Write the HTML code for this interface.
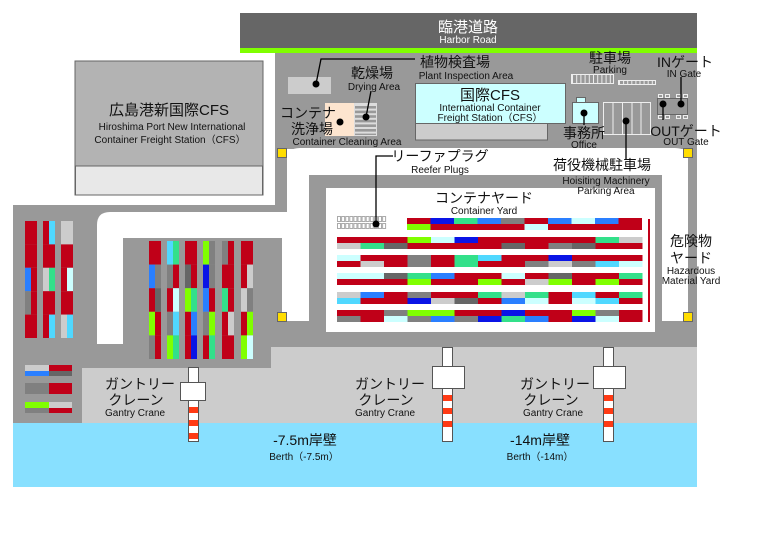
<!DOCTYPE html>
<html><head><meta charset="utf-8"><style>
html,body{margin:0;padding:0;background:#fff;}
svg{display:block;font-family:"Liberation Sans","Noto Sans CJK JP",sans-serif;}
</style></head><body>
<svg id="s" width="758" height="536" viewBox="0 0 758 536" xmlns="http://www.w3.org/2000/svg">
<rect x="240" y="13" width="457" height="36" fill="#666"/>
<rect x="240" y="48" width="457" height="5" fill="#80ff00"/>
<rect x="275" y="53" width="422" height="96" fill="#999"/>
<rect x="275" y="148" width="12" height="64" fill="#999"/>
<rect x="688" y="148" width="9" height="200" fill="#999"/>
<rect x="13" y="205" width="274" height="220" fill="#999"/>
<rect x="13" y="320" width="684" height="105" fill="#999"/>
<path d="M97 344 L97 225 Q97 212 110 212 L282 212 L282 238 L123 238 L123 344 Z" fill="#fff"/>
<rect x="123" y="238" width="159" height="110" fill="#999"/>
<rect x="282" y="212" width="27" height="109" fill="#fff"/>
<path d="M287 212 L287 160 Q287 148 300 148 L675 148 Q688 148 688 160 L688 321 L662 321 L662 175 L309 175 L309 212 Z" fill="#fff"/>
<rect x="309" y="175" width="353" height="170" fill="#999"/>
<rect x="326" y="188" width="329" height="144" fill="#fff"/>
<path d="M82 368 L271 368 L271 347 L697 347 L697 425 L82 425 Z" fill="#ccc"/>
<rect x="13" y="423" width="684" height="64" fill="#88e0ff"/>
<rect x="75" y="61" width="188" height="134" fill="#b3b3b3" stroke="#666" stroke-width="1"/>
<rect x="75.5" y="166" width="187" height="29" fill="#e8e8e8" stroke="#666" stroke-width="1"/>
<rect x="288" y="77" width="43" height="17" fill="#ccc"/>
<rect x="325" y="103" width="29" height="33" fill="#fde5cf"/>
<g id="dry"></g>
<rect x="354.5" y="103.5" width="22" height="32" fill="none" stroke="#ddd"/>
<rect x="415.5" y="122" width="132" height="18" fill="#ccc" stroke="#666"/>
<rect x="415.5" y="83.5" width="150" height="40" fill="#ccffff" stroke="#666"/>
<rect x="571.5" y="74.5" width="42" height="9" fill="none" stroke="#eee"/>
<g id="park"></g>
<rect x="618.5" y="80.5" width="37" height="4" fill="none" stroke="#eee"/>
<rect x="576.5" y="97.5" width="9" height="5" fill="#ccffff" stroke="#666"/>
<rect x="572.5" y="102.5" width="26" height="21" fill="#ccffff" stroke="#666"/>
<g stroke="#eee" fill="none"><rect x="603.5" y="102.5" width="47" height="32"/>
<line x1="613" y1="103" x2="613" y2="135"/><line x1="622.5" y1="103" x2="622.5" y2="135"/><line x1="632" y1="103" x2="632" y2="135"/><line x1="641" y1="103" x2="641" y2="135"/></g>
<rect x="657.5" y="98.5" width="30" height="16" fill="#999" stroke="#666"/>
<g fill="none" stroke="#eee"><rect x="658.5" y="94.5" width="4" height="3"/><rect x="665.5" y="94.5" width="4" height="3"/><rect x="676.5" y="94.5" width="4" height="3"/><rect x="683.5" y="94.5" width="4" height="3"/>
<rect x="658.5" y="115.5" width="4" height="3"/><rect x="665.5" y="115.5" width="4" height="3"/><rect x="676.5" y="115.5" width="4" height="3"/><rect x="683.5" y="115.5" width="4" height="3"/></g>
<g fill="#ffdd00" stroke="#666"><rect x="277.5" y="148.5" width="9" height="9"/><rect x="277.5" y="312.5" width="9" height="9"/><rect x="683.5" y="148.5" width="9" height="9"/><rect x="683.5" y="312.5" width="9" height="9"/></g>
<g id="cont"></g>
<rect x="648" y="219" width="2" height="103" fill="#c00018"/>
<g id="reef"></g>
<g stroke="#000" stroke-width="1.3" fill="none">
<polyline points="316,84 321,59 415,59"/>
<line x1="366" y1="117" x2="371" y2="91"/>
<polyline points="376,224 376,156 393,156"/>
<line x1="626" y1="121" x2="626" y2="160"/>
<line x1="681" y1="104" x2="681" y2="77"/>
<line x1="663" y1="104" x2="663" y2="120"/>
<line x1="584" y1="113" x2="584" y2="125"/>
</g>
<g fill="#000"><circle cx="316" cy="84" r="3.5"/><circle cx="366" cy="117" r="3.5"/><circle cx="340" cy="122" r="3.5"/><circle cx="376" cy="224" r="3.5"/><circle cx="626" cy="121" r="3.5"/><circle cx="663" cy="104" r="3.5"/><circle cx="681" cy="104" r="3.5"/><circle cx="584" cy="113" r="3.5"/></g>
<g id="cranes"></g>
<g text-anchor="middle" fill="#111">
<text x="468" y="32" font-size="15" fill="#fff">臨港道路</text>
<text x="468" y="43" font-size="10" fill="#fff">Harbor Road</text>
<text x="169" y="115" font-size="15">広島港新国際CFS</text>
<text x="172" y="130" font-size="10">Hiroshima Port New International</text>
<text x="170" y="143" font-size="10">Container Freight Station（CFS）</text>
<text x="455" y="67" font-size="14">植物検査場</text>
<text x="466" y="79" font-size="10">Plant Inspection Area</text>
<text x="372" y="78" font-size="14">乾燥場</text>
<text x="374" y="90" font-size="10">Drying Area</text>
<text x="308" y="118" font-size="14">コンテナ</text>
<text x="312" y="134" font-size="14">洗浄場</text>
<text x="347" y="145" font-size="10">Container Cleaning Area</text>
<text x="490" y="100" font-size="15">国際CFS</text>
<text x="490" y="111" font-size="10">International Container</text>
<text x="490" y="121" font-size="10">Freight Station（CFS）</text>
<text x="610" y="63" font-size="14">駐車場</text>
<text x="610" y="73" font-size="10">Parking</text>
<text x="685" y="67" font-size="14">INゲート</text>
<text x="684" y="77" font-size="10">IN Gate</text>
<text x="584" y="138" font-size="14">事務所</text>
<text x="584" y="148" font-size="10">Office</text>
<text x="686" y="136" font-size="14">OUTゲート</text>
<text x="686" y="145" font-size="10">OUT Gate</text>
<text x="440" y="161" font-size="14">リーファプラグ</text>
<text x="440" y="173" font-size="10">Reefer Plugs</text>
<text x="602" y="170" font-size="14">荷役機械駐車場</text>
<text x="606" y="184" font-size="10">Hoisiting Machinery</text>
<text x="606" y="194" font-size="10">Parking Area</text>
<text x="484" y="203" font-size="14">コンテナヤード</text>
<text x="484" y="214" font-size="10">Container Yard</text>
<text x="691" y="246" font-size="14">危険物</text>
<text x="691" y="263" font-size="14">ヤード</text>
<text x="691" y="274" font-size="10">Hazardous</text>
<text x="691" y="284" font-size="10">Material Yard</text>
<text x="140" y="389" font-size="14">ガントリー</text>
<text x="136" y="405" font-size="14">クレーン</text>
<text x="135" y="416" font-size="10">Gantry Crane</text>
<text x="390" y="389" font-size="14">ガントリー</text>
<text x="386" y="405" font-size="14">クレーン</text>
<text x="385" y="416" font-size="10">Gantry Crane</text>
<text x="555" y="389" font-size="14">ガントリー</text>
<text x="551" y="405" font-size="14">クレーン</text>
<text x="553" y="416" font-size="10">Gantry Crane</text>
<text x="305" y="445" font-size="14">-7.5m岸壁</text>
<text x="304" y="460" font-size="10">Berth（-7.5m）</text>
<text x="540" y="445" font-size="14">-14m岸壁</text>
<text x="540" y="460" font-size="10">Berth（-14m）</text>
</g>
</svg>
<script>
(function(){
var NS="http://www.w3.org/2000/svg";
function R(g,x,y,w,h,f,st){var r=document.createElementNS(NS,"rect");r.setAttribute("x",x);r.setAttribute("y",y);r.setAttribute("width",w);r.setAttribute("height",h);r.setAttribute("fill",f);if(st){r.setAttribute("stroke",st);}g.appendChild(r);}
var seed=11;function rnd(){seed=(seed*16807)%2147483647;return seed/2147483647;}
var pal=["#c00018","#c00018","#c00018","#c00018","#c00018","#c00018","#c00018","#c00018","#c00018","#c00018","#808080","#cccccc","#666","#0a14e6","#50d8ff","#ccffff","#33e08a","#2a7fff","#808080","#80ff00"];
function pc(){return pal[Math.floor(rnd()*pal.length)];}
var c=document.getElementById("cont");
[25,43,61].forEach(function(x){for(var i=0;i<5;i++){var y=221+i*23.4;R(c,x,y,6,23.4,pc());R(c,x+6,y,6,23.4,pc());}});
[149,167,185,203,222,241].forEach(function(x){for(var i=0;i<5;i++){var y=241+i*23.6;R(c,x,y,6,23.6,pc());R(c,x+6,y,6,23.6,pc());}});
[365,383,402].forEach(function(y){R(c,25,y,24,6,pc());R(c,49,y,23,6,pc());R(c,25,y+6,24,5,pc());R(c,49,y+6,23,5,pc());});
function row(x0,n,y){for(var i=0;i<n;i++){var x=x0+i*23.5;R(c,x,y,23.5,6,pc());R(c,x,y+6,23.5,6,pc());}}
row(407,10,218);[237,255,273,292,310].forEach(function(y){row(337,13,y);});
var rf=document.getElementById("reef");
for(var i=0;i<12;i++){for(var j=0;j<2;j++){R(rf,337.5+i*4.1,216.5+j*7,3,5,"#fff","#aaa");}}
var d=document.getElementById("dry");
for(var k=0;k<7;k++){R(d,355,104+k*4.6,21,2,"#ddd");}
var p=document.getElementById("park");
for(var k=0;k<10;k++){R(p,572+k*4.2,75,1,9,"#eee");}
for(var k=0;k<9;k++){R(p,619+k*4.1,81,1,4,"#eee");}
var cr=document.getElementById("cranes");
[[188,367,180,382],[442,347,432,366],[603,347,593,366]].forEach(function(a){
 var cx=a[0],top=a[1],bot=441,w=10;
 R(cr,cx+0.5,top+0.5,w,bot-top,"#fff","#555");
 var bh=(a[1]==367)?18:22,bw=(a[1]==367)?25:32;
 R(cr,a[2]+0.5,a[3]+0.5,bw,bh,"#fff","#555");
 var s=a[3]+bh+7;
 for(var k=0;k<3;k++){R(cr,cx+1,s+k*13,w-1,6,"#ff3a14");}
});
})();
</script>
</body></html>
